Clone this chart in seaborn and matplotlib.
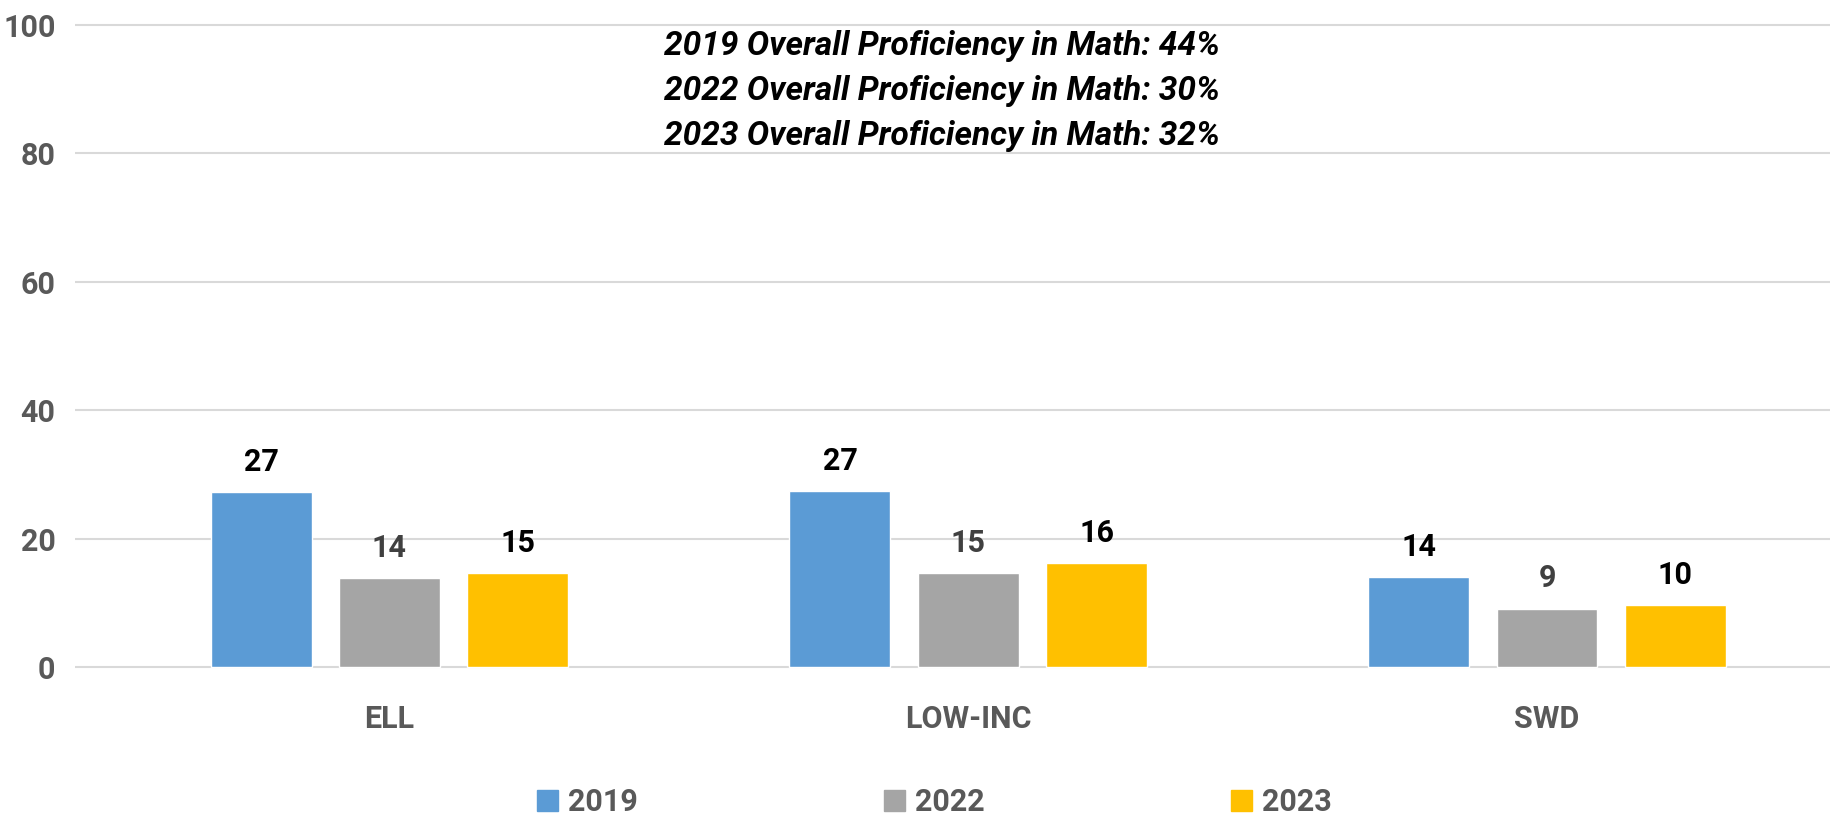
import pandas as pd
import matplotlib.pyplot as plt
import matplotlib.patches as mpatches
import seaborn as sns

# Data
groups = ['ELL', 'LOW-INC', 'SWD']
years = ['2019', '2022', '2023']
vals_2019 = [27.2, 27.4, 14.0]
vals_2022 = [13.8, 14.6, 9.1]
vals_2023 = [14.6, 16.2, 9.6]
overall = ['44%', '30%', '32%']
yticks = [0, 20, 40, 60, 80, 100]

colors = {'2019': '#5B9BD5', '2022': '#A5A5A5', '2023': '#FFC000'}
label_colors = {'2019': 'black', '2022': '#404040', '2023': 'black'}

df = pd.DataFrame({
    'group': groups * 3,
    'year': ['2019'] * 3 + ['2022'] * 3 + ['2023'] * 3,
    'value': vals_2019 + vals_2022 + vals_2023,
})

sns.set_style('white')
plt.rcParams['font.family'] = ['Roboto', 'DejaVu Sans']
plt.rcParams['font.weight'] = 'bold'

W, H = 1830, 816
fig = plt.figure(figsize=(W / 100, H / 100), dpi=100)
# plot area: x 75..1830 px, y=0 at 667 px, y=100 at 25 px
ppu = (667 - 25) / 100
ymin, ymax = -0.4, 100.4
top_px = 667 - (ymax) * ppu
bot_px = 667 - ymin * ppu
ax = fig.add_axes([75 / W, (H - bot_px) / H, (W - 75) / W, (bot_px - top_px) / H])

sns.barplot(data=df, x='group', y='value', hue='year', hue_order=years,
            palette=colors, width=0.665, gap=0.213, legend=False, ax=ax,
            saturation=1, errorbar=None)

# category centres at 389.5, 968.5, 1547 px
ppx = (1547 - 389.5) / 2
ax.set_xlim((75 - 389.5) / ppx, (W - 389.5) / ppx)
ax.set_ylim(ymin, ymax)

fs = 22
for cont, yr in zip(ax.containers, years):
    ax.bar_label(cont, fmt='%.0f', padding=11, color=label_colors[yr],
                 fontsize=fs, fontweight='bold')

for s in ax.spines.values():
    s.set_visible(False)
ax.set_yticks(yticks)
ax.yaxis.grid(True, color='#D9D9D9', linewidth=1.5)
ax.set_axisbelow(True)
ax.tick_params(axis='both', length=0, labelsize=fs, labelcolor='#595959')
ax.tick_params(axis='y', pad=14)
ax.tick_params(axis='x', pad=25)
for t in ax.get_xticklabels() + ax.get_yticklabels():
    t.set_fontweight('bold')
ax.set_xlabel('')
ax.set_ylabel('')

# overall proficiency note
for i, (yr, pct) in enumerate(zip(years, overall)):
    fig.text(942 / W, (H - (55 + 45 * i)) / H,
             f'{yr} Overall Proficiency in Math: {pct}',
             ha='center', va='baseline', fontsize=24, fontweight='bold',
             fontstyle='italic', color='black')

handles = [mpatches.Patch(color=colors[y], label=y) for y in years]
leg = fig.legend(handles=handles, loc='upper left', bbox_to_anchor=(537 / W, (H - 787) / H),
                 ncol=3, frameon=False, fontsize=fs, handlelength=0.69, handleheight=0.68,
                 handletextpad=0.33, columnspacing=8.05, borderpad=0, borderaxespad=0)
for t in leg.get_texts():
    t.set_color('#595959')
    t.set_fontweight('bold')

fig.savefig('out.png', dpi=100)
